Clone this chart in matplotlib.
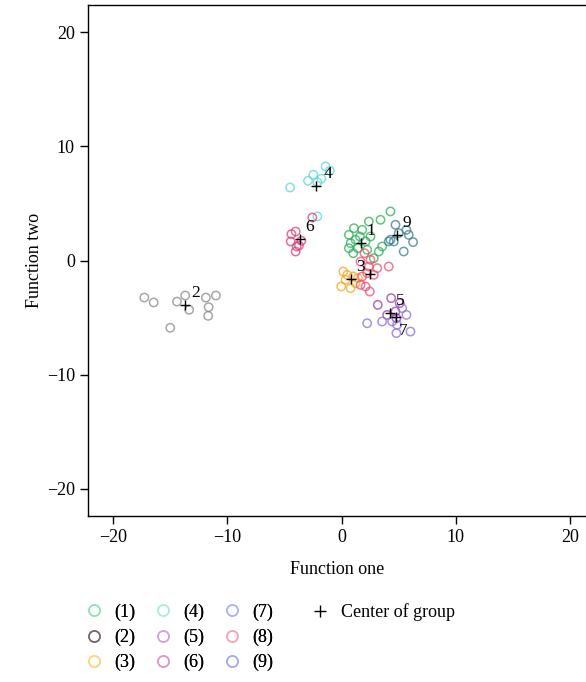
import matplotlib
matplotlib.use("Agg")
import matplotlib.pyplot as plt
from matplotlib.lines import Line2D

plt.rcParams['font.family'] = ['Liberation Serif', 'DejaVu Serif']

legend_labels = ["(1)", "(2)", "(3)", "(4)", "(5)", "(6)", "(7)", "(8)", "(9)"]
center_labels = ["1", "2", "3", "4", "5", "6", "7", "", "9"]
center_label = "Center of group"

g1_x = [0.64, 1.08, 1.81, 2.39, 0.79, 1.22, 1.43, 1.02, 2.10, 2.24, 2.53, 2.82, 3.26, 3.55, 3.41, 4.28, 0.64, 1.60]
g1_y = [2.25, 2.83, 2.69, 3.42, 1.52, 1.82, 1.08, 0.64, 1.67, 0.94, 2.11, 0.20, 0.79, 1.23, 3.57, 4.30, 1.08, 2.11]
g2_x = [-17.27, -16.45, -14.41, -13.69, -13.34, -11.88, -11.00, -11.64, -11.68, -15.00]
g2_y = [-3.25, -3.68, -3.60, -3.07, -4.32, -3.25, -3.07, -4.09, -4.85, -5.90]
g3_x = [0.15, -0.03, 0.35, 0.79, 1.22, 0.50, 1.43, 1.02]
g3_y = [-0.96, -2.28, -1.70, -2.43, -1.99, -1.26, -1.55, -1.40]
g4_x = [-4.51, -2.94, -2.47, -2.12, -1.77, -1.40, -1.02, -2.12]
g4_y = [6.40, 6.99, 7.52, 6.87, 7.17, 8.25, 7.87, 3.86]
g5_x = [3.17, 4.34, 3.99, 4.72, 5.09, 4.80]
g5_y = [-3.89, -3.30, -4.77, -4.47, -3.74, -5.06]
g6_x = [-4.39, -4.45, -4.02, -3.73, -3.52, -4.02, -2.56, -3.93]
g6_y = [2.31, 1.67, 0.79, 1.31, 1.73, 2.54, 3.77, 1.23]
g7_x = [2.24, 3.55, 4.43, 4.80, 5.68, 6.03, 5.30, 4.86]
g7_y = [-5.50, -5.35, -5.35, -6.37, -4.77, -6.23, -4.18, -5.64]
g8_x = [2.01, 1.66, 2.39, 3.12, 4.13, 2.24, 1.66, 2.10, 2.47, 1.81, 2.82, 2.53]
g8_y = [0.64, -0.09, -0.53, -0.67, -0.53, -1.11, -2.13, -2.28, -2.72, -1.40, -1.26, 0.06]
g9_x = [4.28, 4.72, 4.57, 5.00, 5.44, 5.68, 5.88, 6.26, 4.13]
g9_y = [1.82, 3.13, 1.67, 2.40, 0.79, 2.69, 2.25, 1.61, 1.67]

center_x = [1.66, -13.69, 0.79, -2.21, 4.28, -3.64, 4.80, 2.47, 4.86]
center_y = [1.52, -3.89, -1.64, 6.55, -4.62, 1.90, -4.97, -1.20, 2.25]

xs = [g1_x, g2_x, g3_x, g4_x, g5_x, g6_x, g7_x, g8_x, g9_x]
ys = [g1_y, g2_y, g3_y, g4_y, g5_y, g6_y, g7_y, g8_y, g9_y]

colors = ["#2fae58", "#8a8a8a", "#f5a623", "#5fd6d6", "#9a3d9e",
          "#d6447e", "#8a70dc", "#ee4d6e", "#3a7f8c"]
legend_colors = ["#8fe2b4", "#7a6868", "#fbd47c", "#aaeee2", "#d8a2d4",
                 "#d79cc9", "#b2b2f0", "#f7a4ba", "#a9a9f0"]
# label placement (points offset, vertical alignment) for each center label
label_place = [((4, 3), 'bottom'), ((4, 3), 'bottom'), ((4, 3), 'bottom'), ((5, 3), 'bottom'),
               ((4, 3), 'bottom'), ((4, 3), 'bottom'), ((2, -4), 'top'), ((4, 3), 'bottom'),
               ((4, 3), 'bottom')]

fig = plt.figure(figsize=(5.86, 6.82), dpi=100)
ax = fig.add_axes([88/586, 166/682, 1 - 88/586, 511/682])

for gx, gy, c in zip(xs, ys, colors):
    ax.scatter(gx, gy, s=36, facecolors='none', edgecolors=c, linewidths=1.1, alpha=0.75, zorder=2)

ax.scatter(center_x, center_y, marker='+', s=45, color='black', linewidths=1.0, zorder=3)
for cx, cy, lab, (off, va) in zip(center_x, center_y, center_labels, label_place):
    if lab:
        ax.annotate(lab, (cx, cy), xytext=off, textcoords='offset points',
                    fontsize=12.5, color='black', va=va, ha='left', zorder=4)

ax.set_xlim(-22.2, 21.4)
ax.set_ylim(-22.4, 22.4)
ax.set_xticks([-20, -10, 0, 10, 20])
ax.set_yticks([-20, -10, 0, 10, 20])
ax.set_xticklabels(["\u221220", "\u221210", "0", "10", "20"])
ax.set_yticklabels(["\u221220", "\u221210", "0", "10", "20"])
ax.tick_params(labelsize=13, length=6, width=1)
ax.spines['right'].set_visible(False)
for s in ['left', 'bottom', 'top']:
    ax.spines[s].set_linewidth(1.0)
ax.set_xlabel("Function one", fontsize=13, labelpad=11)
ax.set_ylabel("Function two", fontsize=13, labelpad=3)

handles = [Line2D([], [], marker='o', linestyle='none', markerfacecolor='none',
                  markeredgecolor=c, markersize=8, markeredgewidth=1.1) for c in legend_colors]
leg1 = fig.legend(handles, legend_labels, ncol=3, loc='upper left',
                  bbox_to_anchor=(64/586, 1 - 587/682),
                  frameon=False, fontsize=13, handletextpad=0.4, columnspacing=0.75,
                  labelspacing=0.45, handlelength=1.5)
fig.add_artist(leg1)
chandle = [Line2D([], [], marker='+', linestyle='none', color='black', markersize=8)]
fig.legend(chandle, [center_label], loc='upper left',
           bbox_to_anchor=(290/586, 1 - 587/682),
           frameon=False, fontsize=13, handletextpad=0.4, handlelength=1.5)

fig.savefig("out.png", dpi=100)
